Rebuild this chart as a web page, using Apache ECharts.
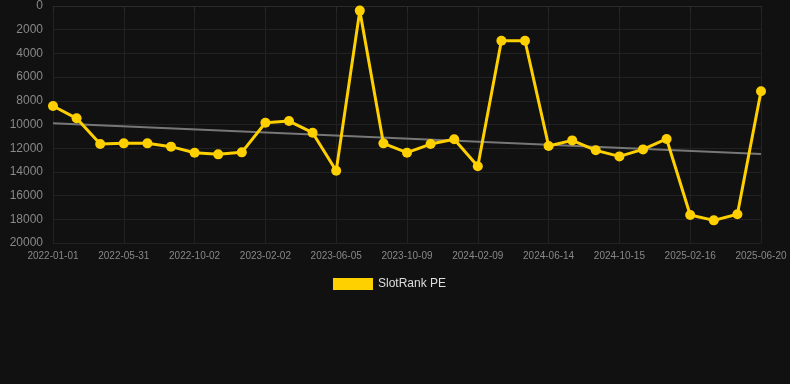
<!DOCTYPE html>
<html>
<head>
<meta charset="utf-8">
<script src="https://cdn.jsdelivr.net/npm/echarts@6/dist/echarts.min.js"></script>
<style>
html,body{margin:0;padding:0;background:#111111;}
#chart{width:790px;height:384px;}
</style>
</head>
<body>
<div id="chart"></div>
<script>
var categories = [
  "2022-01-01","2022-02-20","2022-04-10","2022-05-31","2022-07-11","2022-08-21","2022-10-02",
  "2022-11-12","2022-12-23","2023-02-02","2023-03-15","2023-04-25","2023-06-05","2023-07-18",
  "2023-08-28","2023-10-09","2023-11-19","2023-12-30","2024-02-09","2024-03-21","2024-05-03",
  "2024-06-14","2024-07-25","2024-09-04","2024-10-15","2024-11-25","2025-01-05","2025-02-16",
  "2025-03-29","2025-05-10","2025-06-20"
];
var peValues = [
  8440, 9480, 11650, 11590, 11590, 11870, 12380, 12520, 12350, 9850, 9710, 10690, 13900, 390,
  11590, 12380, 11650, 11250, 13530, 2930, 2930, 11810, 11340, 12180, 12690, 12100, 11220,
  17640, 18090, 17580, 7200
];
var trendStart = 9900;
var trendEnd = 12490;
var yTicks = { min: 0, max: 20000, interval: 2000 };

var chart = echarts.init(document.getElementById('chart'), null, {renderer: 'canvas'});
chart.setOption({
  backgroundColor: '#111111',
  animation: false,
  grid: { left: 53, right: 29, top: 6, bottom: 141, containLabel: false },
  legend: {
    data: ['SlotRank PE'],
    top: 273,
    left: 328,
    itemWidth: 40,
    itemHeight: 12,
    icon: 'rect',
    textStyle: { color: '#dddddd', fontSize: 12, fontFamily: 'Liberation Sans, Arial, sans-serif' }
  },
  xAxis: {
    type: 'category',
    data: categories,
    boundaryGap: false,
    axisLine: { lineStyle: { color: '#2a2a2a' } },
    axisTick: { show: true, interval: 2, lineStyle: { color: '#2a2a2a' } },
    axisLabel: { interval: 2, color: '#888888', fontSize: 10, fontFamily: 'Liberation Sans, Arial, sans-serif' },
    splitLine: { show: true, interval: 2, lineStyle: { color: '#222222' } }
  },
  yAxis: {
    type: 'value',
    inverse: true,
    min: yTicks.min,
    max: yTicks.max,
    interval: yTicks.interval,
    axisLine: { show: false },
    axisTick: { show: false },
    axisLabel: { color: '#888888', fontSize: 12, margin: 10, fontFamily: 'Liberation Sans, Arial, sans-serif',
      formatter: function (v) { return String(v); } },
    splitLine: { show: true, lineStyle: { color: '#222222' } }
  },
  series: [
    {
      name: 'Trend',
      type: 'line',
      data: [[categories[0], trendStart], [categories[categories.length - 1], trendEnd]],
      symbol: 'none',
      lineStyle: { color: '#777777', width: 2 },
      itemStyle: { color: '#777777' },
      z: 1
    },
    {
      name: 'SlotRank PE',
      type: 'line',
      data: peValues,
      symbol: 'circle',
      symbolSize: 10,
      lineStyle: { color: '#ffd000', width: 3 },
      itemStyle: { color: '#ffd000' },
      z: 2
    }
  ]
});
</script>
</body>
</html>
